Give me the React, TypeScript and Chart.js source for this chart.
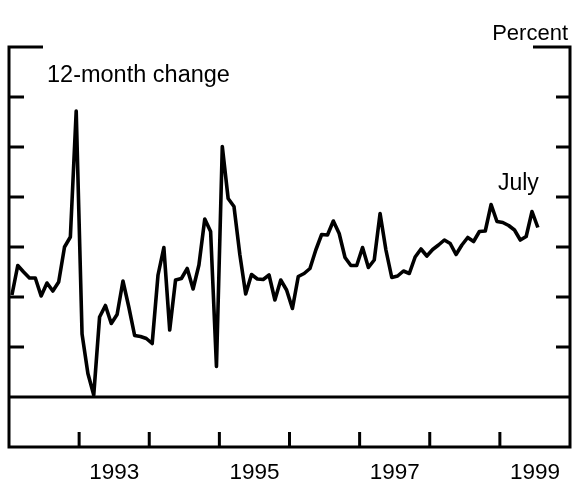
import React, { useEffect, useRef } from "react";
import { Chart, registerables } from "chart.js";

Chart.register(...registerables);

// Monthly 12-month change, Jan 1992 .. Jul 1999 (percent)
const y1992 = [2.04, 2.63, 2.5, 2.38, 2.38, 2.02, 2.28, 2.12, 2.3, 3.0, 3.2, 5.72];
const y1993 = [1.26, 0.47, 0.04, 1.6, 1.83, 1.47, 1.65, 2.32, 1.8, 1.23, 1.21, 1.17];
const y1994 = [1.07, 2.44, 2.99, 1.34, 2.34, 2.37, 2.57, 2.16, 2.64, 3.56, 3.31, 0.61];
const y1995 = [5.01, 3.97, 3.81, 2.85, 2.06, 2.45, 2.36, 2.35, 2.44, 1.94, 2.34, 2.14];
const y1996 = [1.77, 2.41, 2.47, 2.57, 2.94, 3.25, 3.24, 3.52, 3.27, 2.79, 2.63, 2.63];
const y1997 = [2.99, 2.59, 2.74, 3.67, 2.94, 2.39, 2.42, 2.52, 2.47, 2.8, 2.96, 2.82];
const y1998 = [2.95, 3.04, 3.14, 3.07, 2.85, 3.04, 3.19, 3.11, 3.31, 3.32, 3.85, 3.51];
const y1999 = [3.49, 3.43, 3.34, 3.14, 3.21, 3.71, 3.39];

const firstYear = 1992;
const yearCount = 8; // 1992..1999
const yearLabels = ["1993", "1995", "1997", "1999"];
const yTickValues = [1, 2, 3, 4, 5, 6];
const yMin = -1;
const yMax = 7;

const unitLabel = "Percent";
const seriesLabel = "12-month change";
const endLabel = "July";

const FONT = '"Liberation Sans", Arial, Helvetica, sans-serif';

export default function App() {
  const ref = useRef<HTMLCanvasElement | null>(null);

  useEffect(() => {
    const canvas = ref.current;
    if (!canvas) return;
    const values = [...y1992, ...y1993, ...y1994, ...y1995, ...y1996, ...y1997, ...y1998, ...y1999];
    const points = values.map((v, i) => ({ x: i + 0.5, y: v }));

    const framePlugin = {
      id: "frame",
      afterDatasetsDraw(chart: any) {
        const ctx = chart.ctx as CanvasRenderingContext2D;
        const xs = chart.scales.x;
        const ys = chart.scales.y;
        const left = xs.getPixelForValue(0);
        const right = xs.getPixelForValue(yearCount * 12);
        const top = ys.getPixelForValue(yMax);
        const bottom = ys.getPixelForValue(yMin);
        const zero = ys.getPixelForValue(0);
        ctx.save();
        ctx.strokeStyle = "#000";
        ctx.lineWidth = 3;
        ctx.lineCap = "butt";
        ctx.beginPath();
        // left & right axes
        ctx.moveTo(left, top - 1.5);
        ctx.lineTo(left, bottom + 1.5);
        ctx.moveTo(right, top - 1.5);
        ctx.lineTo(right, bottom + 1.5);
        // bottom axis
        ctx.moveTo(left, bottom);
        ctx.lineTo(right, bottom);
        // zero line
        ctx.moveTo(left, zero);
        ctx.lineTo(right, zero);
        // top brackets
        ctx.moveTo(left, top);
        ctx.lineTo(left + 34, top);
        ctx.moveTo(right, top);
        ctx.lineTo(right - 37, top);
        // y ticks, inward on both sides
        yTickValues.forEach((v) => {
          const y = ys.getPixelForValue(v);
          ctx.moveTo(left, y);
          ctx.lineTo(left + 15, y);
          ctx.moveTo(right, y);
          ctx.lineTo(right - 14, y);
        });
        // x ticks at year boundaries
        for (let k = 1; k < yearCount; k++) {
          const x = xs.getPixelForValue(k * 12);
          ctx.moveTo(x, bottom);
          ctx.lineTo(x, bottom - 15);
        }
        ctx.stroke();

        // year labels centred in their year
        ctx.fillStyle = "#000";
        ctx.font = `22.5px ${FONT}`;
        ctx.textAlign = "center";
        ctx.textBaseline = "alphabetic";
        yearLabels.forEach((lab) => {
          const yr = parseInt(lab, 10);
          const x = xs.getPixelForValue((yr - firstYear) * 12 + 6);
          ctx.fillText(lab, x, 479);
        });

        // annotations
        ctx.font = `22px ${FONT}`;
        ctx.textAlign = "right";
        ctx.fillText(unitLabel, 568, 40);
        ctx.font = `23.5px ${FONT}`;
        ctx.textAlign = "left";
        ctx.fillText(seriesLabel, 47, 82);
        const lastX = xs.getPixelForValue(points[points.length - 1].x);
        ctx.font = `23px ${FONT}`;
        ctx.textAlign = "right";
        ctx.fillText(endLabel, lastX + 1, 190);
        ctx.restore();
      },
    };

    const chart = new Chart(canvas, {
      type: "line",
      data: {
        datasets: [
          {
            data: points,
            borderColor: "#000",
            borderWidth: 3.6,
            pointRadius: 0,
            tension: 0,
            borderJoinStyle: "round",
            fill: false,
          },
        ],
      },
      options: {
        animation: false,
        responsive: false,
        layout: { padding: { left: 9, right: 3, top: 47, bottom: 40 } },
        plugins: { legend: { display: false }, tooltip: { enabled: false } },
        scales: {
          x: { type: "linear", min: 0, max: yearCount * 12, display: false },
          y: { type: "linear", min: yMin, max: yMax, display: false },
        },
      },
      plugins: [framePlugin],
    } as any);
    return () => chart.destroy();
  }, []);

  return (
    <div style={{ position: "absolute", left: 0, top: 0, width: 573, height: 487, background: "#fff" }}>
      <canvas ref={ref} width={573} height={487} style={{ display: "block", width: 573, height: 487 }} />
    </div>
  );
}
